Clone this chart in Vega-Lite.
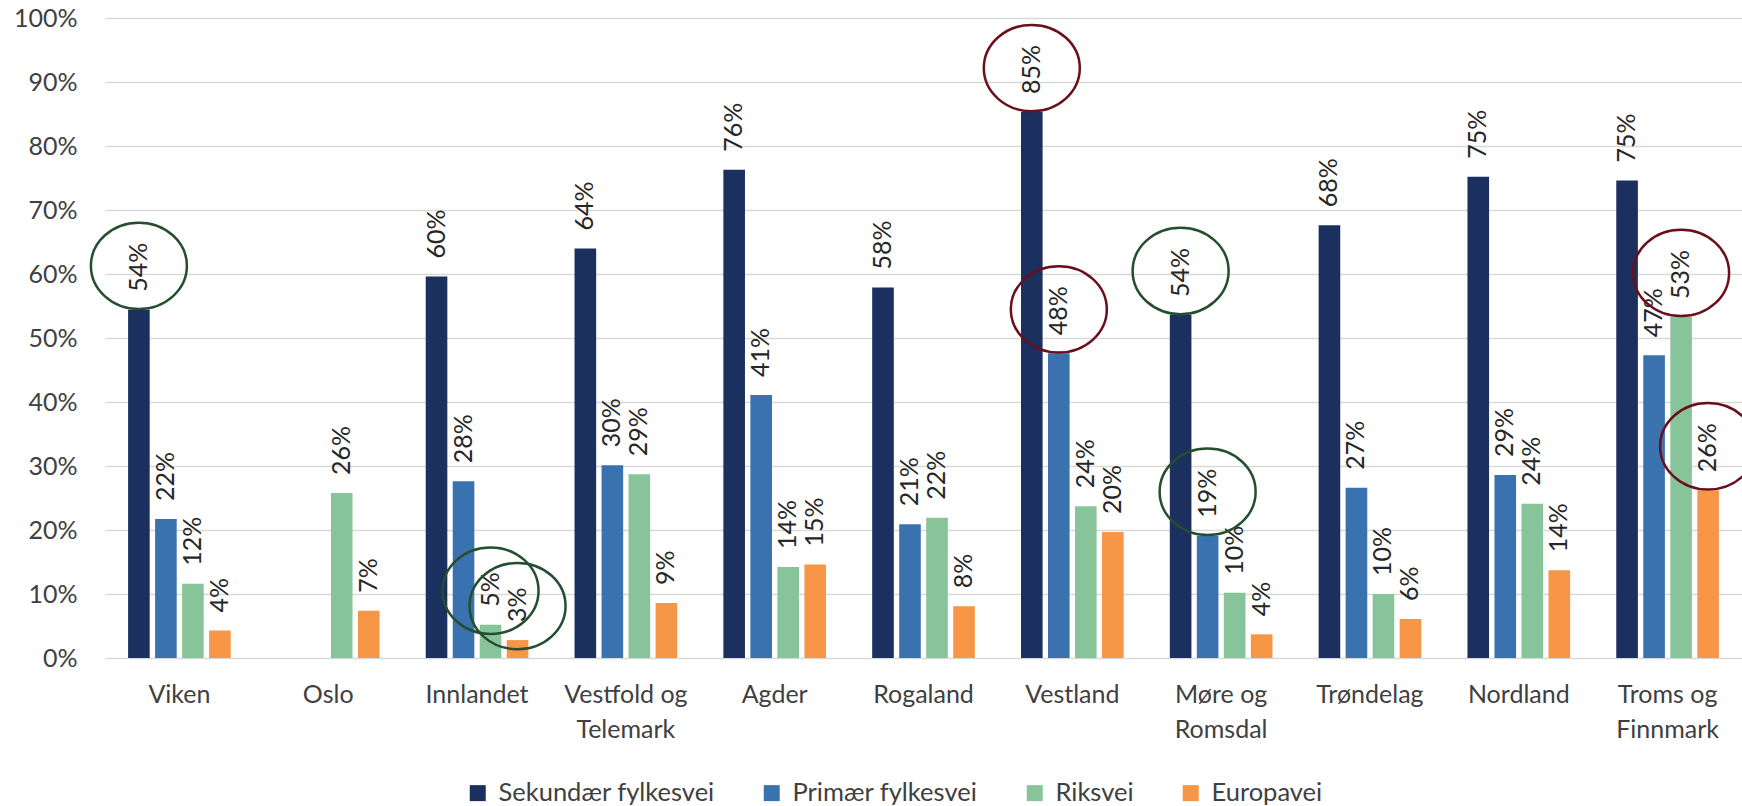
{
  "$schema": "https://vega.github.io/schema/vega-lite/v6.json",
  "autosize": {"type": "none"},
  "width": 1637,
  "height": 640,
  "padding": {"left": 105, "top": 18, "right": 0, "bottom": 148},
  "background": "white",
  "config": {
    "view": {"stroke": null},
    "font": "Lato",
    "text": {"font": "Lato"}
  },
  "data": {
    "values": [
      {"region": "Viken", "type": "Sekundær fylkesvei", "pct": 0.544, "ring": "green"},
      {"region": "Viken", "type": "Primær fylkesvei", "pct": 0.217},
      {"region": "Viken", "type": "Riksvei", "pct": 0.116},
      {"region": "Viken", "type": "Europavei", "pct": 0.043},
      {"region": "Oslo", "type": "Riksvei", "pct": 0.258},
      {"region": "Oslo", "type": "Europavei", "pct": 0.074},
      {"region": "Innlandet", "type": "Sekundær fylkesvei", "pct": 0.596},
      {"region": "Innlandet", "type": "Primær fylkesvei", "pct": 0.276},
      {"region": "Innlandet", "type": "Riksvei", "pct": 0.052, "ring": "green"},
      {"region": "Innlandet", "type": "Europavei", "pct": 0.028, "ring": "green"},
      {"region": "Vestfold og Telemark", "type": "Sekundær fylkesvei", "pct": 0.640},
      {"region": "Vestfold og Telemark", "type": "Primær fylkesvei", "pct": 0.301},
      {"region": "Vestfold og Telemark", "type": "Riksvei", "pct": 0.287},
      {"region": "Vestfold og Telemark", "type": "Europavei", "pct": 0.086},
      {"region": "Agder", "type": "Sekundær fylkesvei", "pct": 0.763},
      {"region": "Agder", "type": "Primær fylkesvei", "pct": 0.411},
      {"region": "Agder", "type": "Riksvei", "pct": 0.142},
      {"region": "Agder", "type": "Europavei", "pct": 0.146},
      {"region": "Rogaland", "type": "Sekundær fylkesvei", "pct": 0.579},
      {"region": "Rogaland", "type": "Primær fylkesvei", "pct": 0.209},
      {"region": "Rogaland", "type": "Riksvei", "pct": 0.219},
      {"region": "Rogaland", "type": "Europavei", "pct": 0.081},
      {"region": "Vestland", "type": "Sekundær fylkesvei", "pct": 0.853, "ring": "red"},
      {"region": "Vestland", "type": "Primær fylkesvei", "pct": 0.476, "ring": "red"},
      {"region": "Vestland", "type": "Riksvei", "pct": 0.237},
      {"region": "Vestland", "type": "Europavei", "pct": 0.197},
      {"region": "Møre og Romsdal", "type": "Sekundær fylkesvei", "pct": 0.536, "ring": "green"},
      {"region": "Møre og Romsdal", "type": "Primær fylkesvei", "pct": 0.191, "ring": "green"},
      {"region": "Møre og Romsdal", "type": "Riksvei", "pct": 0.102},
      {"region": "Møre og Romsdal", "type": "Europavei", "pct": 0.037},
      {"region": "Trøndelag", "type": "Sekundær fylkesvei", "pct": 0.676},
      {"region": "Trøndelag", "type": "Primær fylkesvei", "pct": 0.266},
      {"region": "Trøndelag", "type": "Riksvei", "pct": 0.100},
      {"region": "Trøndelag", "type": "Europavei", "pct": 0.061},
      {"region": "Nordland", "type": "Sekundær fylkesvei", "pct": 0.752},
      {"region": "Nordland", "type": "Primær fylkesvei", "pct": 0.286},
      {"region": "Nordland", "type": "Riksvei", "pct": 0.241},
      {"region": "Nordland", "type": "Europavei", "pct": 0.137},
      {"region": "Troms og Finnmark", "type": "Sekundær fylkesvei", "pct": 0.746},
      {"region": "Troms og Finnmark", "type": "Primær fylkesvei", "pct": 0.473},
      {"region": "Troms og Finnmark", "type": "Riksvei", "pct": 0.533, "ring": "red"},
      {"region": "Troms og Finnmark", "type": "Europavei", "pct": 0.262, "ring": "red"}
    ]
  },
  "encoding": {
    "x": {
      "field": "region",
      "type": "nominal",
      "sort": ["Viken", "Oslo", "Innlandet", "Vestfold og Telemark", "Agder", "Rogaland", "Vestland", "Møre og Romsdal", "Trøndelag", "Nordland", "Troms og Finnmark"],
      "scale": {"paddingInner": 0, "paddingOuter": 0},
      "axis": {
        "title": null,
        "labelAngle": 0,
        "domain": false,
        "ticks": false,
        "labelPadding": 24,
        "labelFontSize": 25,
        "labelColor": "#404040",
        "labelLineHeight": 35,
        "labelFont": "Lato",
        "labelExpr": "indexof(datum.label, ' og ') > 0 ? [substring(datum.label, 0, indexof(datum.label, ' og ') + 3), substring(datum.label, indexof(datum.label, ' og ') + 4)] : datum.label"
      }
    },
    "xOffset": {
      "field": "type",
      "type": "nominal",
      "sort": ["Sekundær fylkesvei", "Primær fylkesvei", "Riksvei", "Europavei"],
      "scale": {"paddingInner": 0.2, "paddingOuter": 0.855}
    },
    "y": {
      "field": "pct",
      "type": "quantitative",
      "scale": {"domain": [0, 1], "nice": false},
      "axis": {
        "title": null,
        "format": ".0%",
        "values": [0, 0.1, 0.2, 0.3, 0.4, 0.5, 0.6, 0.7, 0.8, 0.9, 1],
        "domain": false,
        "ticks": false,
        "labelPadding": 28,
        "labelFontSize": 25,
        "labelColor": "#404040",
        "labelFont": "Lato",
        "gridColor": "#D9D9D9",
        "gridWidth": 1.5
      }
    }
  },
  "layer": [
    {
      "mark": {"type": "bar"},
      "encoding": {
        "color": {
          "field": "type",
          "type": "nominal",
          "sort": ["Sekundær fylkesvei", "Primær fylkesvei", "Riksvei", "Europavei"],
          "scale": {
            "domain": ["Sekundær fylkesvei", "Primær fylkesvei", "Riksvei", "Europavei"],
            "range": ["#1B305E", "#3A72B0", "#88C49A", "#F79646"]
          },
          "legend": {
            "title": null,
            "orient": "none",
            "direction": "horizontal",
            "legendX": 360,
            "legendY": 762,
            "symbolType": "square",
            "symbolSize": 256,
            "symbolStrokeWidth": 0,
            "labelFontSize": 25.5,
            "labelFont": "Lato",
            "labelColor": "#404040",
            "labelOffset": 8,
            "columnPadding": 44,
            "labelLimit": 400
          }
        }
      }
    },
    {
      "mark": {"type": "text", "angle": 270, "align": "left", "baseline": "middle", "dx": 18, "fontSize": 25, "font": "Lato", "color": "#262626"},
      "encoding": {
        "text": {"field": "pct", "type": "quantitative", "format": ".0%"}
      }
    },
    {
      "transform": [{"filter": "isValid(datum.ring) && datum.pct >= 0.1"}],
      "mark": {
        "type": "point",
        "shape": "M-1,0A1,0.9,0,1,0,1,0A1,0.9,0,1,0,-1,0Z",
        "filled": false,
        "size": 9216,
        "strokeWidth": 2.5,
        "yOffset": -44,
        "opacity": 1
      },
      "encoding": {
        "stroke": {
          "field": "ring",
          "type": "nominal",
          "scale": {"domain": ["green", "red"], "range": ["#254D2F", "#6A0F1C"]},
          "legend": null
        }
      }
    },
    {
      "transform": [{"filter": "isValid(datum.ring) && datum.pct < 0.1"}],
      "mark": {
        "type": "point",
        "shape": "M-1,0A1,0.9,0,1,0,1,0A1,0.9,0,1,0,-1,0Z",
        "filled": false,
        "size": 9216,
        "strokeWidth": 2.5,
        "yOffset": -34,
        "opacity": 1
      },
      "encoding": {
        "stroke": {
          "field": "ring",
          "type": "nominal",
          "scale": {"domain": ["green", "red"], "range": ["#254D2F", "#6A0F1C"]},
          "legend": null
        }
      }
    }
  ]
}
